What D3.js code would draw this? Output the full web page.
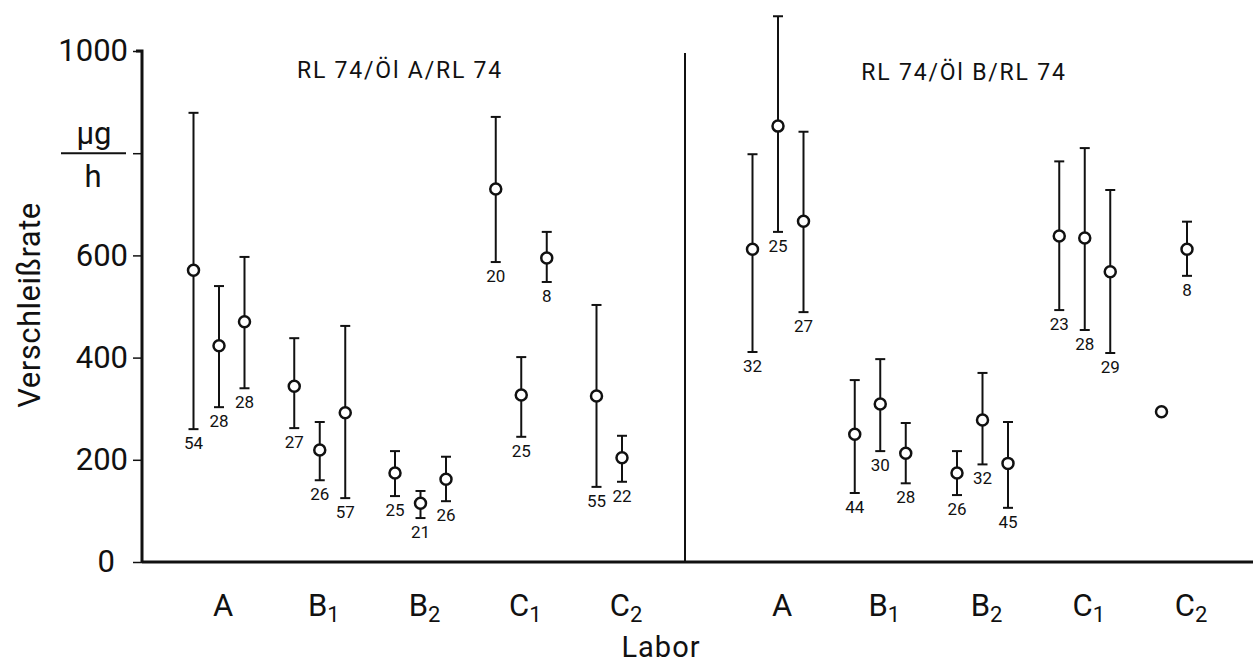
<!DOCTYPE html>
<html>
<head>
<meta charset="utf-8">
<script src="https://cdn.jsdelivr.net/npm/d3@7"></script>
<style>
  body { margin: 0; background: #fff; }
  text { font-family: Roboto, "DejaVu Sans", sans-serif; fill: #111; }
</style>
</head>
<body>
<div class="chart"></div>
<script>
// categories (Labor) and panel titles
const labs = ['A', 'B1', 'B2', 'C1', 'C2'];
const titles = ['RL 74/Öl A/RL 74', 'RL 74/Öl B/RL 74'];
const yTicks = [0, 200, 400, 600, 800, 1000];

// left panel: RL 74/Öl A/RL 74
const leftLab  = ['A','A','A','B1','B1','B1','B2','B2','B2','C1','C1','C1','C2','C2'];
const leftSlot = [0,1,2, 0,1,2, 0,1,2, 0,1,2, 0,1];
const leftMean = [571,423,470, 344,219,292, 174,115,162, 730,327,595, 325,204];
const leftLow  = [260,303,340, 262,160,125, 129,86,119, 587,245,548, 147,157];
const leftHigh = [879,540,597, 438,274,462, 217,139,206, 871,401,646, 503,247];
const leftN    = [54,28,28, 27,26,57, 25,21,26, 20,25,8, 55,22];

// right panel: RL 74/Öl B/RL 74
const rightLab  = ['A','A','A','B1','B1','B1','B2','B2','B2','C1','C1','C1','C2','C2'];
const rightSlot = [0,1,2, 0,1,2, 0,1,2, 0,1,2, 0,1];
const rightMean = [612,853,667, 250,309,213, 174,278,193, 638,634,568, 294,612];
const rightLow  = [411,646,489, 135,217,154, 131,191,106, 493,454,409, null,560];
const rightHigh = [798,1068,842, 356,397,272, 217,370,274, 784,810,728, null,666];
const rightN    = [32,25,27, 44,30,28, 26,32,45, 23,28,29, null,8];

const W = 1253, H = 666;
const x0 = 142, yBase = 562, divX = 685;

const svg = d3.select('.chart').append('svg')
  .attr('width', W).attr('height', H);

const y = d3.scaleLinear().domain([0, 1000]).range([yBase, 51]);

// group centres per panel, slot offset inside a group
const xs = [
  d3.scalePoint().domain(labs).range([219, 622]),
  d3.scalePoint().domain(labs).range([778, 1187])
];
const inner = d3.scalePoint().domain([0, 1, 2]).range([-25.5, 25.5]);

// y axis
const yAxis = d3.axisLeft(y).tickValues(yTicks).tickSize(9).tickSizeOuter(0)
  .tickFormat(d => d === 800 ? '' : d);
const gy = svg.append('g').attr('transform', `translate(${x0},0)`).call(yAxis);
gy.select('.domain').attr('stroke', '#111').attr('stroke-width', 3)
  .attr('d', `M-6,${y(1000)}H0V${yBase}`);
gy.selectAll('.tick line').attr('stroke', '#111').attr('stroke-width', 1.5);
gy.selectAll('.tick text')
  .attr('x', d => d === 0 ? -27 : -14)
  .style('font-size', '31px').style('font-family', 'Roboto, sans-serif')
  .attr('fill', '#111');

// unit µg/h at the 800 tick
svg.append('text').attr('x', 94).attr('y', y(800) - 9).attr('text-anchor', 'middle')
  .style('font-size', '31px').text('µg');
svg.append('line').attr('x1', 61).attr('x2', 126).attr('y1', y(800)).attr('y2', y(800))
  .attr('stroke', '#111').attr('stroke-width', 2);
svg.append('text').attr('x', 93).attr('y', y(800) + 34).attr('text-anchor', 'middle')
  .style('font-size', '31px').text('h');

// y label
svg.append('text')
  .attr('transform', `translate(40,${305}) rotate(-90)`)
  .attr('text-anchor', 'middle')
  .style('font-size', '31px').style('letter-spacing', '0.5px')
  .text('Verschleißrate');

// x axis line and divider
svg.append('line').attr('x1', x0).attr('x2', W).attr('y1', yBase).attr('y2', yBase)
  .attr('stroke', '#111').attr('stroke-width', 3);
svg.append('line').attr('x1', divX).attr('x2', divX).attr('y1', 53).attr('y2', yBase)
  .attr('stroke', '#111').attr('stroke-width', 2);

// category labels with subscripts
xs.forEach(sc => {
  labs.forEach(l => {
    const t = svg.append('text').attr('x', sc(l) + 4).attr('y', 616)
      .attr('text-anchor', 'middle').style('font-size', '31px');
    t.append('tspan').text(l[0]);
    if (l.length > 1) {
      t.append('tspan').attr('dy', 6).style('font-size', '22px').text(l.slice(1));
    }
  });
});

svg.append('text').attr('x', 661).attr('y', 657).attr('text-anchor', 'middle')
  .style('font-size', '29px').style('letter-spacing', '1px').text('Labor');

// panel titles
svg.append('text').attr('x', 400).attr('y', 78).attr('text-anchor', 'middle')
  .style('font-size', '23px').style('letter-spacing', '1.8px').text(titles[0]);
svg.append('text').attr('x', 964).attr('y', 80).attr('text-anchor', 'middle')
  .style('font-size', '23px').style('letter-spacing', '1.8px').text(titles[1]);

// error bars
function drawPanel(sc, lab, slot, mean, low, high, n) {
  const g = svg.append('g');
  const rows = mean.map((m, i) => ({
    x: sc(lab[i]) + inner(slot[i]), m, lo: low[i], hi: high[i], n: n[i]
  }));
  const eb = rows.filter(d => d.lo != null);
  g.selectAll('line.bar').data(eb).join('line').attr('class', 'bar')
    .attr('x1', d => d.x).attr('x2', d => d.x)
    .attr('y1', d => y(d.lo)).attr('y2', d => y(d.hi))
    .attr('stroke', '#111').attr('stroke-width', 2);
  ['lo', 'hi'].forEach(k => {
    g.selectAll('line.cap' + k).data(eb).join('line').attr('class', 'cap' + k)
      .attr('x1', d => d.x - 5).attr('x2', d => d.x + 5)
      .attr('y1', d => y(d[k])).attr('y2', d => y(d[k]))
      .attr('stroke', '#111').attr('stroke-width', 2);
  });
  g.selectAll('circle').data(rows).join('circle')
    .attr('cx', d => d.x).attr('cy', d => y(d.m)).attr('r', 5.5)
    .attr('fill', '#fff').attr('stroke', '#111').attr('stroke-width', 2.5);
  g.selectAll('text').data(eb).join('text')
    .attr('x', d => d.x).attr('y', d => y(d.lo) + 20)
    .attr('text-anchor', 'middle').style('font-size', '17px')
    .text(d => d.n);
}

drawPanel(xs[0], leftLab, leftSlot, leftMean, leftLow, leftHigh, leftN);
drawPanel(xs[1], rightLab, rightSlot, rightMean, rightLow, rightHigh, rightN);
</script>
</body>
</html>
